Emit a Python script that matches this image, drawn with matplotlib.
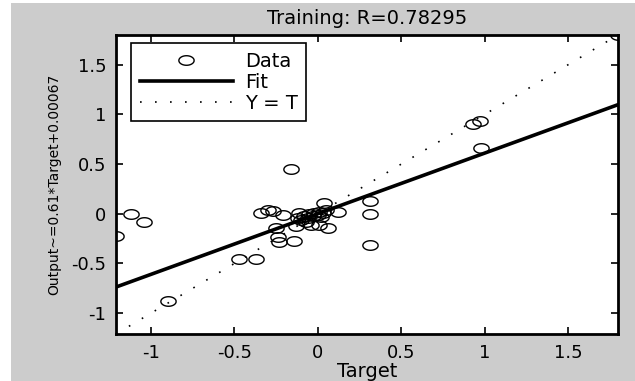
import numpy as np
import matplotlib
matplotlib.use('Agg')
import matplotlib.pyplot as plt
from matplotlib.path import Path
from matplotlib.ticker import FormatStrFormatter
from matplotlib.patches import Rectangle

plt.rcParams['font.family'] = ['DejaVu Sans']
plt.rcParams['axes.unicode_minus'] = False

# 训练集数据
target = [-1.21, -1.12, -1.04, -0.90, -0.47, -0.37, -0.34, -0.30, -0.27, -0.21,
          -0.25, -0.24, -0.23, -0.14, -0.16, -0.13, -0.11, -0.04, 0.01,
          0.04, 0.12, 0.06, 0.31, 0.31, 0.31, 0.93, 0.97, 0.98, 1.80,
          -0.08, -0.06, -0.05, -0.03, -0.02, 0.00, 0.01, 0.02, 0.03,
          -0.10, -0.12, 0.05, -0.07]
output = [-0.22, 0.00, -0.08, -0.88, -0.45, -0.46, 0.01, 0.04, 0.03, -0.01,
          -0.14, -0.23, -0.28, -0.27, 0.45, -0.12, 0.01, -0.11, -0.11,
          0.11, 0.02, -0.14, 0.13, 0.00, -0.31, 0.90, 0.93, 0.66, 1.80,
          -0.02, -0.04, 0.00, -0.02, 0.01, -0.01, 0.02, -0.03, 0.01,
          -0.06, -0.04, 0.04, -0.08]
slope, offset = 0.61, 0.00067
r_value = 0.78295
lims = [-1.21, 1.80]

gray = '#cccccc'
fig = plt.figure(figsize=(6.35, 3.81), dpi=100)
fig.set_facecolor(gray)
# 左边和上边的白边
fig.patches.append(Rectangle((0, 0), 11 / 635, 1, transform=fig.transFigure,
                             facecolor='white', edgecolor='none', zorder=-1))
fig.patches.append(Rectangle((0, 1 - 3 / 381), 1, 3 / 381, transform=fig.transFigure,
                             facecolor='white', edgecolor='none', zorder=-1))

ax = fig.add_axes([116 / 635, 1 - 334 / 381, 502 / 635, 299 / 381])

# 椭圆形的圆圈标记（原图被横向拉伸）
th = np.linspace(0, 2 * np.pi, 60)
ell = Path(np.column_stack([1.6 * np.cos(th), np.sin(th)]))

ax.plot(target, output, linestyle='none', marker=ell, markersize=11,
        markerfacecolor='none', markeredgecolor='k', markeredgewidth=1.0,
        label='Data')
xx = np.array(lims)
ax.plot(xx, slope * xx + offset, color='k', linewidth=2.6, label='Fit')
ax.plot(xx, xx, color='k', linestyle=(0, (1, 8)), linewidth=1.2, label='Y = T')

ax.set_xlim(lims)
ax.set_ylim(lims)
ax.set_xticks([-1, -0.5, 0, 0.5, 1, 1.5])
ax.set_yticks([-1, -0.5, 0, 0.5, 1, 1.5])
ax.xaxis.set_major_formatter(FormatStrFormatter('%g'))
ax.yaxis.set_major_formatter(FormatStrFormatter('%g'))
ax.tick_params(direction='in', length=5, width=1.2, top=True, right=True,
               labelsize=13, pad=7)
for s in ax.spines.values():
    s.set_linewidth(2)

ax.set_title('Training: R=%g' % r_value, fontsize=14, pad=8)
ax.set_xlabel('Target', fontsize=14, labelpad=0)
ax.set_ylabel('Output~=%g*Target+%g' % (slope, offset), fontsize=10, labelpad=7)

leg = ax.legend(loc='upper left', bbox_to_anchor=(0.03, 0.973), fontsize=14,
                fancybox=False, framealpha=1, edgecolor='k', handlelength=4.8,
                handletextpad=0.6, labelspacing=0.1, borderpad=0.45,
                borderaxespad=0)
leg.get_frame().set_linewidth(1.2)

fig.savefig('out.png', dpi=100, facecolor=gray)
